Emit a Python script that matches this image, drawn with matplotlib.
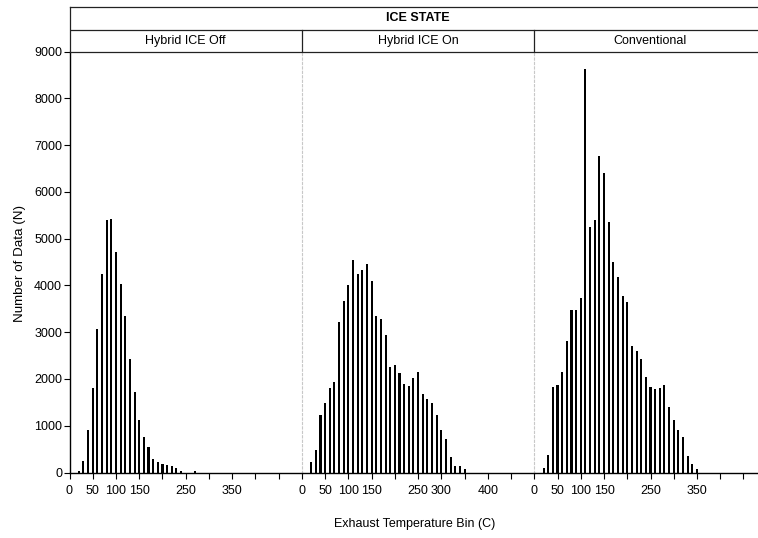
import matplotlib
matplotlib.use('Agg')
import matplotlib.pyplot as plt

plt.rcParams['font.family'] = ['Liberation Sans', 'DejaVu Sans']

# ---- data ----
bins = [20, 30, 40, 50, 60, 70, 80, 90, 100, 110, 120, 130, 140, 150, 160, 170,
        180, 190, 200, 210, 220, 230, 240, 250, 260, 270, 280, 290, 300, 310,
        320, 330, 340, 350]
panel_names = ["Hybrid ICE Off", "Hybrid ICE On", "Conventional"]
ice_off = [30, 240, 900, 1810, 3070, 4250, 5400, 5430, 4710, 4030, 3340, 2420,
           1720, 1120, 750, 540, 290, 230, 180, 160, 140, 95, 25, 0, 0, 30,
           0, 0, 0, 0, 0, 0, 0, 0]
ice_on = [215, 480, 1235, 1485, 1805, 1925, 3210, 3660, 4000, 4550, 4240, 4335,
          4455, 4100, 3340, 3280, 2940, 2260, 2290, 2125, 1900, 1855, 2025,
          2140, 1685, 1570, 1485, 1230, 910, 715, 330, 140, 140, 75]
conventional = [93, 378, 1825, 1875, 2140, 2815, 3480, 3480, 3725, 8630, 5245,
                5400, 6770, 6415, 5350, 4510, 4190, 3785, 3640, 2715, 2600, 2430,
                2040, 1825, 1780, 1805, 1875, 1410, 1125, 910, 750, 355, 180, 73]
series = [ice_off, ice_on, conventional]
yticks = [0, 1000, 2000, 3000, 4000, 5000, 6000, 7000, 8000, 9000]
xticks = [0, 50, 100, 150, 200, 250, 300, 350, 400, 450]
xtick_shown = [
    [0, 50, 100, 150, 250, 350],
    [0, 50, 100, 150, 250, 300, 400],
    [0, 50, 100, 150, 250, 350],
]
header_title = "ICE STATE"
xlabel = "Exhaust Temperature Bin (C)"
ylabel = "Number of Data (N)"

# ---- layout (pixels) ----
W, H = 758, 538
x0 = 69.5
pw = 232.4
ytop = 51.7
ybot = 472.5
hdr_top = 6.7

fig = plt.figure(figsize=(W / 100, H / 100), dpi=100)
fs = 9

axes = []
for i, vals in enumerate(series):
    ax = fig.add_axes([(x0 + i * pw) / W, (H - ybot) / H, pw / W, (ybot - ytop) / H])
    ax.bar(bins, vals, width=4.5, color='black', linewidth=0)
    ax.set_xlim(0, 500)
    ax.set_ylim(0, 9000)
    ax.set_xticks(xticks)
    ax.set_xticklabels([str(t) if t in xtick_shown[i] else '' for t in xticks],
                       fontsize=fs)
    ax.tick_params(axis='x', direction='out', length=4.3, width=0.8, pad=5,
                   color='black')
    for s in ['top', 'right']:
        ax.spines[s].set_visible(False)
    ax.spines['bottom'].set_linewidth(1.0)
    if i == 0:
        ax.set_yticks(yticks)
        ax.set_yticklabels([str(t) for t in yticks], fontsize=fs)
        ax.tick_params(axis='y', direction='out', length=4.3, width=0.8, pad=1)
        ax.spines['left'].set_linewidth(1.0)
    else:
        ax.tick_params(axis='y', left=False, labelleft=False)
        ax.spines['left'].set_color('#c8c8c8')
        ax.spines['left'].set_linestyle((0, (2, 2)))
        ax.spines['left'].set_linewidth(0.8)
    ax.patch.set_alpha(0)
    axes.append(ax)

# ---- header strips ----
hax = fig.add_axes([x0 / W, (H - ytop) / H, 3 * pw / W, (ytop - hdr_top) / H])
hax.set_xlim(0, 3)
hax.set_ylim(0, 2)
hax.set_xticks([])
hax.set_yticks([])
for s in hax.spines.values():
    s.set_color('#222222')
    s.set_linewidth(0.9)
mid = 2 * (ytop - 30.0) / (ytop - hdr_top)
hax.axhline(mid, color='#222222', linewidth=0.9)
for xv in [1, 2]:
    hax.plot([xv, xv], [0, mid], color='#222222', linewidth=0.9)
hax.text(1.5, (mid + 2) / 2, header_title, ha='center', va='center',
         fontsize=fs, fontweight='bold')
for i, name in enumerate(panel_names):
    hax.text(i + 0.5, mid / 2, name, ha='center', va='center', fontsize=fs)

fig.text(415 / W, 1 - 524 / H, xlabel, ha='center', va='center', fontsize=fs)
fig.text(20 / W, 1 - 263 / H, ylabel, ha='center', va='center', fontsize=9.6,
         rotation=90)

fig.savefig('out.png', dpi=100)
